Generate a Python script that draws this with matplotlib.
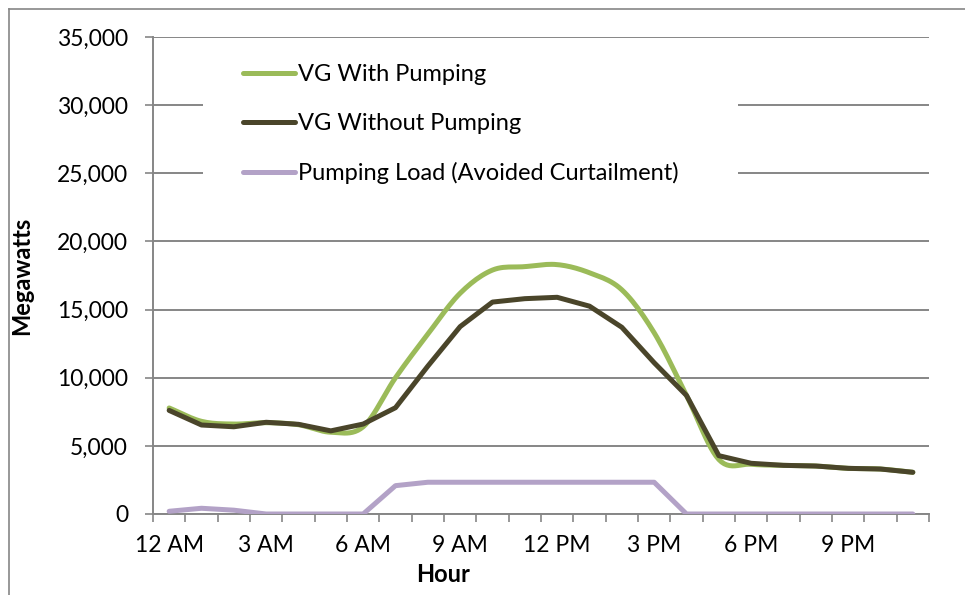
import numpy as np
import matplotlib.pyplot as plt
from matplotlib.patches import Rectangle
from matplotlib.lines import Line2D

# hourly values, MW
hours = np.arange(24)
vg_with = [7780, 6800, 6600, 6700, 6550, 6000, 6400, 10000, 13200, 16200, 17900, 18150,
           18300, 17700, 16450, 13300, 8700, 4000, 3650, 3570, 3520, 3350, 3300, 3060]
vg_without = [7600, 6530, 6400, 6730, 6580, 6100, 6600, 7800, 10850, 13750, 15550, 15800,
              15900, 15250, 13700, 11100, 8700, 4280, 3720, 3570, 3520, 3350, 3300, 3060]
pump_load = [200, 420, 280, 0, 0, 0, 0, 2080, 2330, 2330, 2330, 2330,
             2330, 2330, 2330, 2330, 0, 0, 0, 0, 0, 0, 0, 0]
tick_hours = [0, 3, 6, 9, 12, 15, 18, 21]
tick_labels = ['12 AM', '3 AM', '6 AM', '9 AM', '12 PM', '3 PM', '6 PM', '9 PM']

plt.rcParams['font.family'] = ['Lato', 'DejaVu Sans']


def smooth(x, y, n=12):
    # catmull-rom through the points, like excel's smoothed line
    x = np.asarray(x, float)
    y = np.asarray(y, float)
    px = np.concatenate([[2*x[0]-x[1]], x, [2*x[-1]-x[-2]]])
    py = np.concatenate([[2*y[0]-y[1]], y, [2*y[-1]-y[-2]]])
    xs, ys = [], []
    t = np.linspace(0, 1, n, endpoint=False)
    for i in range(1, len(px)-2):
        for p, out in ((px, xs), (py, ys)):
            p0, p1, p2, p3 = p[i-1], p[i], p[i+1], p[i+2]
            out.extend(0.5*(2*p1 + (-p0+p2)*t + (2*p0-5*p1+4*p2-p3)*t**2 + (-p0+3*p1-3*p2+p3)*t**3))
    xs.append(x[-1])
    ys.append(y[-1])
    return np.array(xs), np.array(ys)


fig = plt.figure(figsize=(9.65, 5.95), dpi=100)
grid_c = '#868686'
# chart area border (only top and left edges show)
fig.lines.append(Line2D([8.5/965, 8.5/965], [0, 1-8.5/595], transform=fig.transFigure,
                        color=grid_c, lw=1.2))
fig.lines.append(Line2D([8.5/965, 1], [1-8.5/595, 1-8.5/595], transform=fig.transFigure,
                        color=grid_c, lw=1.2))
ax = fig.add_axes([153/965, 81/595, 776/965, 477/595])

ax.set_ylim(0, 35000)
ax.set_xlim(-0.5, 23.5)
ax.set_yticks(np.arange(0, 35001, 5000))
ax.set_yticklabels(['{:,}'.format(v) for v in range(0, 35001, 5000)])
ax.yaxis.grid(True, color=grid_c, lw=1.4, zorder=0)
ax.set_axisbelow(True)

ax.set_xticks(tick_hours)
ax.set_xticklabels(tick_labels)
ax.set_xticks(np.arange(-0.5, 24, 1), minor=True)
ax.tick_params(axis='x', which='major', length=0, pad=15, labelsize=16.5)
ax.tick_params(axis='x', which='minor', length=6, width=1.2, color=grid_c)
ax.tick_params(axis='y', length=6, width=1.2, color=grid_c, pad=12, labelsize=16.5)

for s in ['top', 'right']:
    ax.spines[s].set_visible(False)
for s in ['left', 'bottom']:
    ax.spines[s].set_color(grid_c)
    ax.spines[s].set_linewidth(1.4)

# white box behind the legend
ax.add_patch(Rectangle(((203-153)/776, (514-190)/477), (738-203)/776, (190-50)/477,
                       transform=ax.transAxes, facecolor='white', edgecolor='none', zorder=1))

sx, sy = smooth(hours, vg_with)
ax.plot(sx, sy, color='#9BBB59', lw=3.6, label='VG With Pumping', zorder=3,
        solid_capstyle='round')
ax.plot(hours, vg_without, color='#4A452A', lw=3.6, label='VG Without Pumping', zorder=4,
        solid_capstyle='round', solid_joinstyle='round')
ax.plot(hours, pump_load, color='#B3A2C7', lw=3.6, label='Pumping Load (Avoided Curtailment)',
        zorder=3, solid_capstyle='round', solid_joinstyle='round')

ax.legend(loc='upper left', bbox_to_anchor=((243-153)/776, (514-64)/477), frameon=False,
          fontsize=17, handlelength=2.2, handletextpad=0.15, labelspacing=1.18,
          borderpad=0, borderaxespad=0)

ax.set_ylabel('Megawatts', fontsize=17, fontweight='bold')
ax.yaxis.set_label_coords((33-153)/776, 0.5)
ax.set_xlabel('Hour', fontsize=17, fontweight='bold')
ax.xaxis.set_label_coords((443-153)/776, (514-563)/477)

fig.savefig('out.png', dpi=100)
